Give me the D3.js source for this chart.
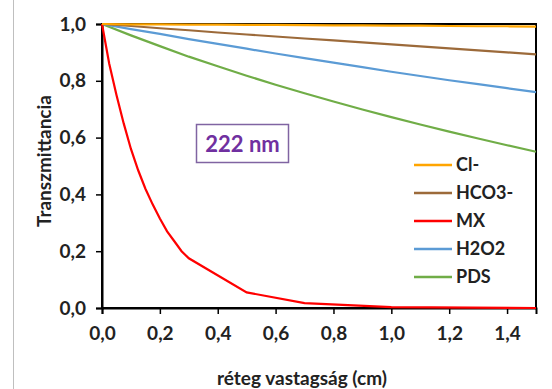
<!DOCTYPE html>
<html>
<head>
<meta charset="utf-8">
<script src="https://cdn.jsdelivr.net/npm/d3@7"></script>
<style>
  body { margin: 0; background: #fff; }
  text { font-family: Lato, "Open Sans", sans-serif; }
</style>
</head>
<body>
<div id="chart"></div>
<script>
const width = 552;
const height = 389;

// thickness values (cm)
const xsLinear = [0, 0.1, 0.2, 0.3, 0.4, 0.5, 0.6, 0.7, 0.8, 0.9, 1.0, 1.1, 1.2, 1.3, 1.4, 1.5];
const cl = [1.0, 0.999, 0.999, 0.998, 0.998, 0.997, 0.997, 0.996, 0.995, 0.995, 0.994, 0.994, 0.993, 0.992, 0.992, 0.991];
const hco3 = [1.0, 0.993, 0.985, 0.978, 0.97, 0.963, 0.956, 0.949, 0.942, 0.935, 0.928, 0.921, 0.914, 0.907, 0.9, 0.893];
const h2o2 = [1.0, 0.982, 0.965, 0.947, 0.93, 0.913, 0.896, 0.88, 0.864, 0.848, 0.832, 0.817, 0.802, 0.788, 0.774, 0.76];
const pds = [1.0, 0.96, 0.922, 0.885, 0.851, 0.818, 0.786, 0.756, 0.727, 0.699, 0.672, 0.646, 0.621, 0.597, 0.573, 0.55];

const xsMX = [0, 0.025, 0.05, 0.075, 0.1, 0.125, 0.15, 0.175, 0.2, 0.225, 0.25, 0.275, 0.3, 0.5, 0.7, 1.0, 1.5];
const mx = [1.0, 0.86, 0.75, 0.65, 0.56, 0.485, 0.42, 0.365, 0.315, 0.27, 0.235, 0.2, 0.175, 0.055, 0.017, 0.003, 0.0];

const seriesNames = ["Cl-", "HCO3-", "MX", "H2O2", "PDS"];
const seriesColors = ["#FFA500", "#9C6A3A", "#FF0000", "#5B9BD5", "#70AD47"];

const xTicks = [0, 0.2, 0.4, 0.6, 0.8, 1.0, 1.2, 1.4];
const yTicks = [0, 0.2, 0.4, 0.6, 0.8, 1.0];
const fmt = d => d3.format(".1f")(d).replace(".", ",");

const svg = d3.select("#chart")
    .append("svg")
    .attr("width", width)
    .attr("height", height);

// outer frame edge on the left
svg.append("line")
    .attr("x1", 13.5).attr("x2", 13.5)
    .attr("y1", 0).attr("y2", height)
    .attr("stroke", "#bfbfbf");

const x = d3.scaleLinear().domain([0, 1.5]).range([102, 536]);
const y = d3.scaleLinear().domain([0, 1]).range([308, 24]);

// plot frame
svg.append("rect")
    .attr("x", x(0)).attr("y", y(1))
    .attr("width", x(1.5) - x(0)).attr("height", y(0) - y(1))
    .attr("fill", "none")
    .attr("stroke", "#000")
    .attr("stroke-width", 2);

const xAxis = svg.append("g")
    .attr("transform", `translate(0,${y(0)})`)
    .call(d3.axisBottom(x).tickValues(xTicks).tickFormat(fmt).tickSize(6).tickPadding(13));

const yAxis = svg.append("g")
    .attr("transform", `translate(${x(0)},0)`)
    .call(d3.axisLeft(y).tickValues(yTicks).tickFormat(fmt).tickSize(6).tickPadding(10));

[xAxis, yAxis].forEach(g => {
    g.select(".domain").attr("stroke", "#000").attr("stroke-width", 2);
    g.selectAll(".tick line").attr("stroke", "#000").attr("stroke-width", 1.5);
    g.selectAll(".tick text")
        .attr("fill", "#222")
        .style("font-size", "19px")
        .style("font-weight", "bold");
});

const line = d3.line()
    .x(d => x(d[0]))
    .y(d => y(d[1]));

const seriesData = [
    xsLinear.map((v, i) => [v, cl[i]]),
    xsLinear.map((v, i) => [v, hco3[i]]),
    xsMX.map((v, i) => [v, mx[i]]),
    xsLinear.map((v, i) => [v, h2o2[i]]),
    xsLinear.map((v, i) => [v, pds[i]])
];

// draw order: green, blue, red, brown, orange on top
[4, 3, 2, 1, 0].forEach(i => {
    svg.append("path")
        .datum(seriesData[i])
        .attr("fill", "none")
        .attr("stroke", seriesColors[i])
        .attr("stroke-width", 2.2)
        .attr("d", line);
});

// legend
const legend = svg.append("g");
seriesNames.forEach((name, i) => {
    const ly = 165 + i * 28;
    legend.append("line")
        .attr("x1", 414).attr("x2", 452)
        .attr("y1", ly).attr("y2", ly)
        .attr("stroke", seriesColors[i])
        .attr("stroke-width", 2.5);
    legend.append("text")
        .attr("x", 456).attr("y", ly)
        .attr("dy", "0.35em")
        .attr("fill", "#222")
        .style("font-size", "18px")
        .style("font-weight", "bold")
        .text(name);
});

// wavelength box
svg.append("rect")
    .attr("x", 196.5).attr("y", 124.5)
    .attr("width", 92).attr("height", 38)
    .attr("fill", "#fff")
    .attr("stroke", "#8064A2")
    .attr("stroke-width", 1.5);
svg.append("text")
    .attr("x", 242.5).attr("y", 144)
    .attr("dy", "0.35em")
    .attr("text-anchor", "middle")
    .attr("fill", "#7030A0")
    .style("font-size", "22px")
    .style("font-weight", "bold")
    .text("222 nm");

// axis titles
svg.append("text")
    .attr("x", 302).attr("y", 378)
    .attr("dy", "0.35em")
    .attr("text-anchor", "middle")
    .attr("fill", "#222")
    .style("font-size", "19px")
    .style("font-weight", "bold")
    .text("réteg vastagság (cm)");

svg.append("text")
    .attr("transform", "translate(44,161) rotate(-90)")
    .attr("dy", "0.35em")
    .attr("text-anchor", "middle")
    .attr("fill", "#222")
    .style("font-size", "19px")
    .style("font-weight", "bold")
    .text("Transzmittancia");
</script>
</body>
</html>
